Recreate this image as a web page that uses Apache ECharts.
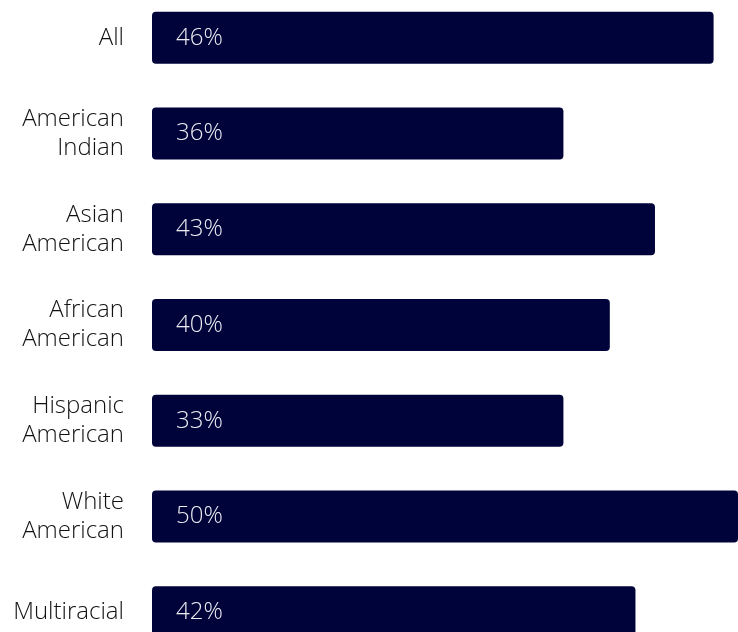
<!DOCTYPE html>
<html>
<head>
<meta charset="utf-8">
<script src="https://cdn.jsdelivr.net/npm/echarts@6/dist/echarts.min.js"></script>
<style>
  html, body { margin: 0; padding: 0; background: #ffffff; }
  #chart { width: 738px; height: 632px; }
</style>
</head>
<body>
<div id="chart"></div>
<script>
// Categories (top to bottom)
const categories = [
  "All",
  "American\nIndian",
  "Asian\nAmerican",
  "African\nAmerican",
  "Hispanic\nAmerican",
  "White\nAmerican",
  "Multiracial"
];
// Bar lengths (percent)
const barValues = [46, 33.7, 41.2, 37.5, 33.7, 50, 39.6];
// Printed labels
const labelValues = ["46%", "36%", "43%", "40%", "33%", "50%", "42%"];

const chart = echarts.init(document.getElementById('chart'), null, { renderer: 'canvas' });

chart.setOption({
  animation: false,
  backgroundColor: '#ffffff',
  grid: { left: 152, right: 0, top: -10, height: 670, containLabel: false, outerBoundsMode: 'none' },
  xAxis: {
    type: 'value',
    min: 0,
    max: 48,
    show: false
  },
  yAxis: {
    type: 'category',
    inverse: true,
    data: categories,
    axisLine: { show: false },
    axisTick: { show: false },
    splitLine: { show: false },
    axisLabel: {
      margin: 28,
      align: 'right',
      color: '#111111',
      fontFamily: '"Open Sans", "Liberation Sans", sans-serif',
      fontWeight: 300,
      fontSize: 24,
      lineHeight: 29
    }
  },
  series: [{
    type: 'bar',
    data: barValues,
    barWidth: 52,
    clip: true,
    itemStyle: { color: '#00033a', borderRadius: 4 },
    label: {
      show: true,
      position: 'insideLeft',
      distance: 24,
      color: '#ececf2',
      fontFamily: '"Open Sans", "Liberation Sans", sans-serif',
      fontWeight: 300,
      fontSize: 24,
      formatter: p => labelValues[p.dataIndex]
    }
  }]
});
</script>
</body>
</html>
